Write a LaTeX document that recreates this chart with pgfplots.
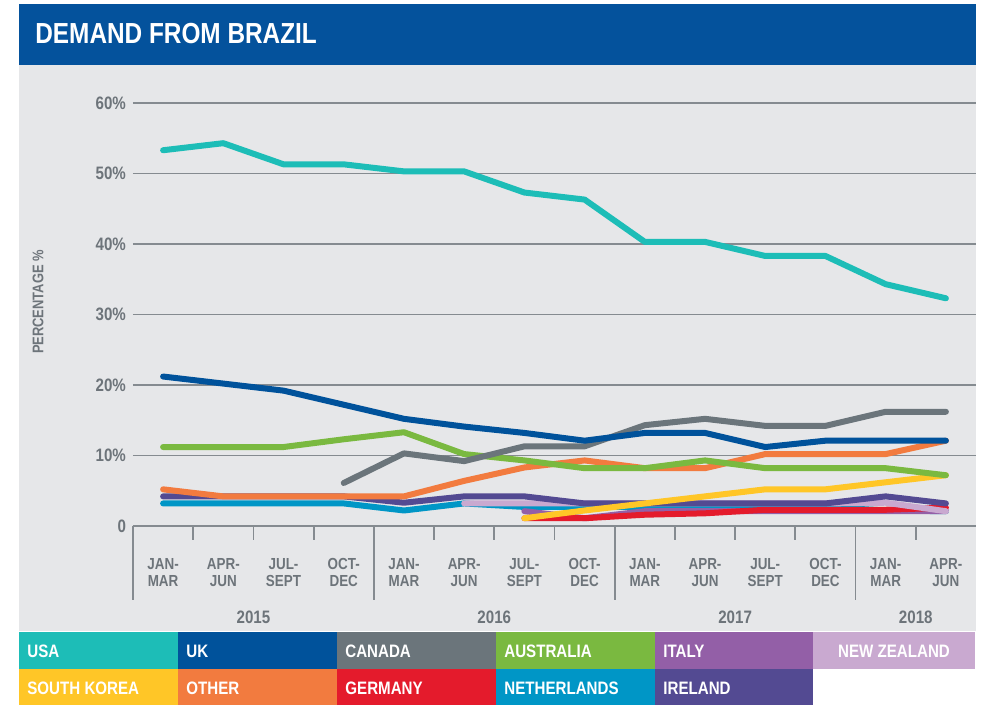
\documentclass[border=0pt]{standalone}
\usepackage{pgfplots}
\pgfplotsset{compat=1.18}
\usepackage{fontspec}
\setmainfont{Liberation Sans}[FakeStretch=0.84]
\definecolor{titleblue}{HTML}{04529C}
\definecolor{panelgray}{HTML}{E6E7E9}
\definecolor{axgray}{HTML}{6D747A}
\definecolor{gridgray}{HTML}{858B90}
\definecolor{cUSA}{HTML}{1DBDB7}
\definecolor{cUK}{HTML}{00529B}
\definecolor{cCanada}{HTML}{6B757B}
\definecolor{cAustralia}{HTML}{7AB940}
\definecolor{cItaly}{HTML}{935FA7}
\definecolor{cNZ}{HTML}{C9A9D0}
\definecolor{cKorea}{HTML}{FFC627}
\definecolor{cOther}{HTML}{F27B3F}
\definecolor{cGermany}{HTML}{E41B2C}
\definecolor{cNL}{HTML}{0096C6}
\definecolor{cIreland}{HTML}{534A92}
\begin{document}
\begin{tikzpicture}
\begin{scope}[x=0.5pt,y=-0.5pt,shift={(-66.5pt,263pt)}]
\fill[white] (0,0) rectangle (981,705);
\fill[titleblue] (19,4) rectangle (976,65);
\fill[panelgray] (19,65) rectangle (976,631);
\fill[cUSA] (19,632) rectangle (178,669);
\fill[cUK] (178,632) rectangle (337,669);
\fill[cCanada] (337,632) rectangle (496,669);
\fill[cAustralia] (496,632) rectangle (655,669);
\fill[cItaly] (655,632) rectangle (813,669);
\fill[cNZ] (813,632) rectangle (975,669);
\fill[cKorea] (19,669) rectangle (178,705);
\fill[cOther] (178,669) rectangle (337,705);
\fill[cGermany] (337,669) rectangle (496,705);
\fill[cNL] (496,669) rectangle (655,705);
\fill[cIreland] (655,669) rectangle (813,705);
\node[anchor=west,text=white,font=\fontsize{14.5}{16}\selectfont\bfseries,inner sep=0pt] at (35,34) {DEMAND FROM BRAZIL};
\begin{scope}[every node/.style={anchor=west,text=white,font=\fontsize{9}{10}\selectfont\bfseries,inner sep=0pt}]
\node at (27,651) {USA};
\node at (186,651) {UK};
\node at (345,651) {CANADA};
\node at (504,651) {AUSTRALIA};
\node at (663,651) {ITALY};
\node[anchor=center] at (894,651) {NEW ZEALAND};
\node at (27,688) {SOUTH KOREA};
\node at (186,688) {OTHER};
\node at (345,688) {GERMANY};
\node at (504,688) {NETHERLANDS};
\node at (663,688) {IRELAND};
\end{scope}
\node[rotate=90,text=axgray,font=\fontsize{7.7}{9}\selectfont\bfseries,inner sep=0pt] at (38,302) {PERCENTAGE \%};
\end{scope}
\begin{axis}[
  scale only axis, width=421.5pt, height=211.5pt,
  xmin=-0.5, xmax=13.5, ymin=0, ymax=60,
  axis line style={draw=none},
  clip=false,
  /pgf/number format/assume math mode=true,
  xtick={0,...,13},
  xticklabels={JAN-\\MAR,APR-\\JUN,JUL-\\SEPT,OCT-\\DEC,JAN-\\MAR,APR-\\JUN,JUL-\\SEPT,OCT-\\DEC,JAN-\\MAR,APR-\\JUN,JUL-\\SEPT,OCT-\\DEC,JAN-\\MAR,APR-\\JUN},
  xticklabel style={align=center,text=axgray,font=\fontsize{8}{8.8}\selectfont\bfseries,yshift=-12.5pt},
  ytick={0,10,20,30,40,50,60},
  yticklabels={0,10\%,20\%,30\%,40\%,50\%,60\%},
  yticklabel style={text=axgray,font=\fontsize{9}{10}\selectfont\bfseries},
  major tick length=0pt,
  ymajorgrids, grid style={gridgray,line width=0.75pt},
  every axis plot/.append style={line width=3pt,line cap=round,line join=round,mark=none},
]
\draw[gridgray,line width=0.9pt] (axis cs:-0.5,0) -- (axis cs:13.5,0);
\pgfplotsinvokeforeach{-0.5,3.5,7.5,11.5}{\draw[gridgray,line width=0.9pt] (axis cs:#1,0) -- ([yshift=-37pt]axis cs:#1,0);}
\pgfplotsinvokeforeach{0.5,1.5,2.5,4.5,5.5,6.5,8.5,9.5,10.5,12.5}{\draw[gridgray,line width=0.9pt] (axis cs:#1,0) -- ([yshift=-7pt]axis cs:#1,0);}
\node[text=axgray,font=\fontsize{9}{10}\selectfont\bfseries] at ([yshift=-45.5pt]axis cs:1.5,0) {2015};
\node[text=axgray,font=\fontsize{9}{10}\selectfont\bfseries] at ([yshift=-45.5pt]axis cs:5.5,0) {2016};
\node[text=axgray,font=\fontsize{9}{10}\selectfont\bfseries] at ([yshift=-45.5pt]axis cs:9.5,0) {2017};
\node[text=axgray,font=\fontsize{9}{10}\selectfont\bfseries] at ([yshift=-45.5pt]axis cs:12.5,0) {2018};
% Netherlands
\addplot[cNL] coordinates {(0,3.2)(1,3.2)(2,3.2)(3,3.2)(4,2.2)(5,3.2)(6,2.7)(7,2.7)(8,2.7)(9,2.7)(10,2.7)(11,2.7)(12,2.2)(13,2.1)};
% Italy
\addplot[cItaly] coordinates {(6,2.1)(7,1.1)(8,2.1)(9,2.1)(10,2.1)(11,2.1)(12,2.1)(13,2.1)};
% Germany
\addplot[cGermany] coordinates {(6,1.1)(7,1.1)(8,1.6)(9,1.8)(10,2.3)(11,2.3)(12,2.3)(13,2.6)};
% New Zealand
\addplot[cNZ] coordinates {(5,3.2)(6,3.2)(7,3.2)(8,3.2)(9,3.2)(10,3.2)(11,3.2)(12,3.3)(13,2.1)};
% Ireland
\addplot[cIreland] coordinates {(0,4.2)(1,4.2)(2,4.2)(3,4.2)(4,3.3)(5,4.2)(6,4.2)(7,3.2)(8,3.2)(9,3.2)(10,3.2)(11,3.2)(12,4.2)(13,3.2)};
% South Korea
\addplot[cKorea] coordinates {(6,1.1)(7,2.2)(8,3.2)(9,4.2)(10,5.2)(11,5.2)(12,6.2)(13,7.2)};
% Other
\addplot[cOther] coordinates {(0,5.2)(1,4.2)(2,4.2)(3,4.2)(4,4.2)(5,6.4)(6,8.3)(7,9.3)(8,8.2)(9,8.2)(10,10.2)(11,10.2)(12,10.2)(13,12.1)};
% Australia
\addplot[cAustralia] coordinates {(0,11.2)(1,11.2)(2,11.2)(3,12.3)(4,13.3)(5,10.2)(6,9.3)(7,8.2)(8,8.2)(9,9.3)(10,8.2)(11,8.2)(12,8.2)(13,7.2)};
% Canada
\addplot[cCanada] coordinates {(3,6.1)(4,10.3)(5,9.2)(6,11.3)(7,11.3)(8,14.3)(9,15.2)(10,14.2)(11,14.2)(12,16.2)(13,16.2)};
% UK
\addplot[cUK] coordinates {(0,21.2)(1,20.2)(2,19.2)(3,17.2)(4,15.2)(5,14.1)(6,13.2)(7,12.1)(8,13.2)(9,13.2)(10,11.2)(11,12.1)(12,12.1)(13,12.1)};
% USA
\addplot[cUSA] coordinates {(0,53.3)(1,54.3)(2,51.3)(3,51.3)(4,50.3)(5,50.3)(6,47.3)(7,46.3)(8,40.3)(9,40.3)(10,38.3)(11,38.3)(12,34.3)(13,32.3)};
\end{axis}
\end{tikzpicture}
\end{document}
